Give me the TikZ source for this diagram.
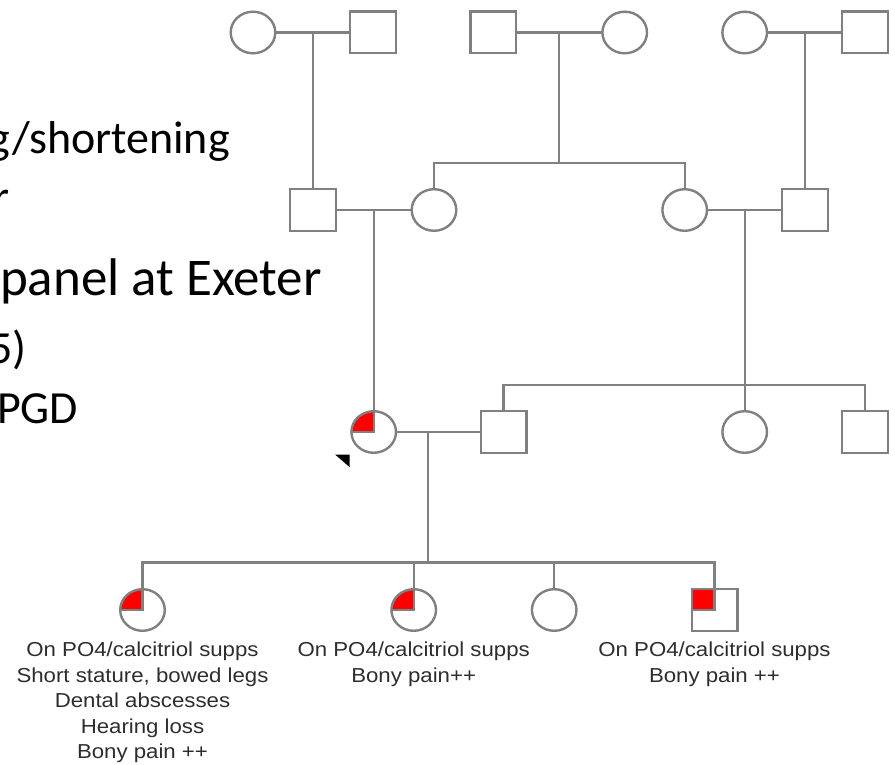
\documentclass[tikz,border=0pt]{standalone}
\usepackage{fontspec}
\setmainfont{Liberation Sans}
\newfontfamily\slidefont{Carlito}
\newfontfamily\lblfont[FakeStretch=1.1]{Liberation Sans}
\usetikzlibrary{shapes.geometric}
\definecolor{pedgray}{RGB}{128,128,128}
\definecolor{lbltext}{RGB}{45,45,45}
\definecolor{affred}{RGB}{255,0,0}
\begin{document}
\begin{tikzpicture}[x=1pt,y=-1pt,
  pedline/.style={draw=pedgray, line width=2.4pt},
  fem/.style={ellipse, pedline, fill=white, minimum width=44.6pt, minimum height=41.6pt, inner sep=0pt, outer sep=0pt},
  male/.style={rectangle, pedline, fill=white, minimum width=45.6pt, minimum height=41.6pt, inner sep=0pt, outer sep=0pt},
  aff/.style={path picture={
      \fill[affred] (path picture bounding box.center) rectangle (path picture bounding box.north west);
      \draw[pedgray, line width=2.4pt] (path picture bounding box.west) -- (path picture bounding box.center) -- (path picture bounding box.north);}},
  lbl/.style={font=\lblfont\fontsize{20.2}{24}\selectfont, text=lbltext, anchor=base, inner sep=0pt},
  slide/.style={font=\slidefont\fontsize{46}{55}\selectfont, text=black, anchor=base east, inner sep=0pt},
  slidebig/.style={slide, font=\slidefont\fontsize{53}{63}\selectfont}]
\useasboundingbox (0,0) rectangle (895,765);
\clip (0,0) rectangle (895,765);

% slide text (cut off at left edge, as in the reference)
\node[slide] (t1) at (230,153.5) {g/shortening};
\node[slide] (t2) at (9.5,213) {r};
\node[slidebig] (t3) at (322,295) {panel at Exeter};
\node[slide] (t4) at (26.7,363) {5)};
\node[slide] (t5) at (78.3,423) {PGD};

% generation I
\node[fem]  (A1) at (253,32.5) {};
\node[male] (A2) at (373,32.5) {};
\node[male] (B1) at (493.3,32.5) {};
\node[fem]  (B2) at (624.7,32.5) {};
\node[fem]  (D1) at (744.7,32.5) {};
\node[male] (D2) at (865,32.5) {};

% generation II
\node[male] (C1) at (313,210) {};
\node[fem]  (C2) at (434,210) {};
\node[fem]  (C3) at (684.7,210) {};
\node[male] (C4) at (805,210) {};

% generation III
\node[fem, aff] (E1) at (373.7,432) {};
\node[male] (E2) at (503.5,432) {};
\node[fem]  (F2) at (744.7,432) {};
\node[male] (F3) at (865,432) {};

% generation IV
\node[fem, aff]  (G1) at (142.5,610) {};
\node[fem, aff]  (G2) at (413.7,610) {};
\node[fem]       (G3) at (554.2,610) {};
\node[male, aff] (G4) at (714.5,610) {};

% coordinates
\coordinate (mA) at (313,32.5);
\coordinate (mB) at (559,32.5);
\coordinate (sB) at (559,163.3);
\coordinate (mD) at (805,32.5);
\coordinate (mC) at (373.7,210);
\coordinate (mC2) at (744.7,210);
\coordinate (sF) at (744.7,385);
\coordinate (mE) at (428,432);
\coordinate (sG) at (428,562.3);

% connectors
\draw[pedline] (A1.east) -- (A2.west);
\draw[pedline] (mA) -- (C1.north);
\draw[pedline] (B1.east) -- (B2.west);
\draw[pedline] (mB) -- (sB);
\draw[pedline] (C2.north) |- (sB) -| (C3.north);
\draw[pedline] (D1.east) -- (D2.west);
\draw[pedline] (mD) -- (C4.north);
\draw[pedline] (C1.east) -- (C2.west);
\draw[pedline] (mC) -- (E1.north);
\draw[pedline] (C3.east) -- (C4.west);
\draw[pedline] (mC2) -- (F2.north);
\draw[pedline] (E2.north) |- (sF) -| (F3.north);
\draw[pedline] (E1.east) -- (E2.west);
\draw[pedline] (mE) -- (sG);
\draw[pedline] (G1.north) |- (sG) -| (G4.north);
\draw[pedline] (G2.north) -- (G2.north |- sG);
\draw[pedline] (G3.north) -- (G3.north |- sG);

% pointer mark
\fill[black] (335,454.5) -- (349.5,454.5) -- (349.5,467) -- cycle;

% labels
\node[lbl] (g1a) at (142.5,656.7) {On PO4/calcitriol supps};
\node[lbl] (g1b) at (142.5,682.3) {Short stature, bowed legs};
\node[lbl] (g1c) at (142.5,707.5) {Dental abscesses};
\node[lbl] (g1d) at (142.5,733) {Hearing loss};
\node[lbl] (g1e) at (142.5,758.3) {Bony pain ++};
\node[lbl] (g2a) at (413.7,656.7) {On PO4/calcitriol supps};
\node[lbl] (g2b) at (413.7,682.3) {Bony pain++};
\node[lbl] (g4a) at (714.5,656.7) {On PO4/calcitriol supps};
\node[lbl] (g4b) at (714.5,682.3) {Bony pain ++};
\end{tikzpicture}
\end{document}
